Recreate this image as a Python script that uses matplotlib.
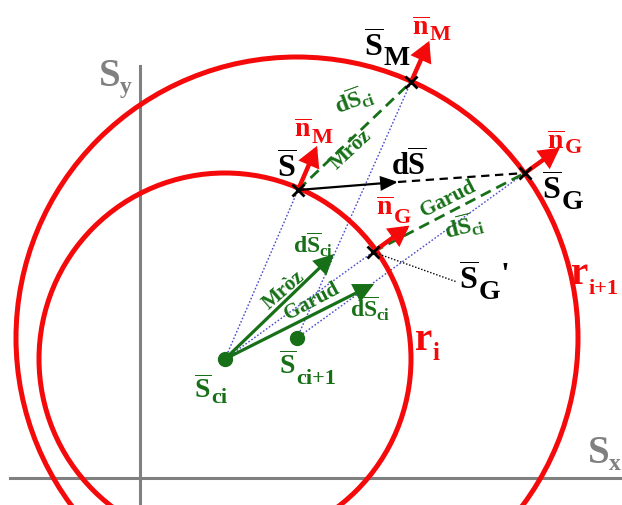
import numpy as np
import matplotlib
matplotlib.use("Agg")
import matplotlib.pyplot as plt
from matplotlib.patches import Circle, FancyArrowPatch

plt.rcParams["mathtext.fontset"] = "custom"
plt.rcParams["mathtext.rm"] = "Liberation Serif:bold"
plt.rcParams["mathtext.it"] = "Liberation Serif:bold"
plt.rcParams["mathtext.bf"] = "Liberation Serif:bold"
plt.rcParams["lines.scale_dashes"] = False

# ---- geometry (stress plane, drawing units) ----
# yield-surface centres S_ci, S_ci+1 and radii r_i, r_i+1
center_x = [225, 297]
center_y = [359, 338]
radius = [186, 281]

# stress points: S, S_M (Mroz image), S_G (Garud image), S_G'
point_x = [298, 411, 525, 373]
point_y = [190, 82, 173, 252]
point_center = [0, 1, 1, 0]          # surface each point lies on
normal_len = [48, 45, 43, 45]        # length of the normal arrows

# tip of the stress increment dS (continues dashed to S_G)
ds_tip = [398, 182]

# translation arrows dS_ci drawn from S_ci: Mroz, Garud
dsci_tip_x = [334, 374]
dsci_tip_y = [254, 284]

# coordinate axes
sx_axis_y, sx_axis_x = 478, [10, 622]
sy_axis_x, sy_axis_y = 140, [66, 505]

RED = "#f40a0a"
GREEN = "#177017"
GRAY = "#808080"
BLUE = "#4a4ad0"
SERIF = dict(family="Liberation Serif", weight="bold")

fig = plt.figure(figsize=(6.22, 5.05), dpi=100)
ax = fig.add_axes([0, 0, 1, 1])
ax.set_xlim(0, 622)
ax.set_ylim(505, 0)
ax.axis("off")

# axes
ax.plot(sx_axis_x, [sx_axis_y] * 2, color=GRAY, lw=2.2, zorder=1)
ax.plot([sy_axis_x] * 2, sy_axis_y, color=GRAY, lw=2.2, zorder=1)

P = list(zip(point_x, point_y))
C = list(zip(center_x, center_y))
S, SM, SG, SGp = P

# thin dotted construction rays from the centres
for ci, pi in [(0, 0), (1, 1), (0, 3), (1, 2)]:
    ax.plot([C[ci][0], P[pi][0]], [C[ci][1], P[pi][1]], color=BLUE, lw=1.0,
            dashes=(1.2, 1.4), zorder=2)

# yield surfaces
for (cx, cy), r in zip(C, radius):
    ax.add_patch(Circle((cx, cy), r, fill=False, ec=RED, lw=3.6, zorder=3))


def arrow(p0, p1, color, lw, hl, hw, z=5):
    ax.add_patch(FancyArrowPatch(p0, p1, arrowstyle=f"-|>,head_length={hl},head_width={hw}",
                                 mutation_scale=1, color=color, lw=lw,
                                 shrinkA=0, shrinkB=0, zorder=z, joinstyle="miter"))


# dashed dS_ci directions (Mroz: S -> S_M, Garud: S_G' -> S_G)
ax.plot([S[0], SM[0]], [S[1], SM[1]], color=GREEN, lw=2.0, dashes=(8, 4.5), zorder=4)
ax.plot([SGp[0], SG[0]], [SGp[1], SG[1]], color=GREEN, lw=2.0, dashes=(8, 4.5), zorder=4)

# stress increment dS and its extension to S_G
arrow(S, ds_tip, "black", 1.6, 10, 4.2)
ax.plot([ds_tip[0], SG[0]], [ds_tip[1], SG[1]], color="black", lw=1.6, dashes=(6, 4), zorder=4)

# leader to the S_G' label
ax.plot([SGp[0], 457], [SGp[1], 282], color="black", lw=1.0, dashes=(1, 1.3), zorder=4)

# centre translation arrows
for tx, ty in zip(dsci_tip_x, dsci_tip_y):
    arrow(C[0], (tx, ty), GREEN, 2.3, 11, 5.5)

# centre markers
ax.plot(center_x, center_y, "o", color=GREEN, ms=10, zorder=6)

# outward normals
for (px, py), ci, L in zip(P, point_center, normal_len):
    d = np.array([px - C[ci][0], py - C[ci][1]], float)
    d /= np.hypot(*d)
    arrow((px, py), (px + L * d[0], py + L * d[1]), RED, 3.2, 10, 5.5, z=7)

# stress points
ax.plot(point_x, point_y, "x", color="black", ms=8, mew=2, zorder=8)


def sublabel(x, y, base, sub, ysub, color, size, subsize, prime=None):
    t = ax.text(x, y, base, color=color, fontsize=size, ha="left", va="baseline", zorder=9)
    s = ax.annotate(sub, xy=(1.0, ysub), xycoords=(t, "data"), color=color,
                    fontsize=subsize, ha="left", va="baseline", zorder=9, **SERIF)
    if prime is not None:
        ax.annotate("'", xy=(1.0, prime), xycoords=(s, "data"), color=color,
                    fontsize=size, ha="left", va="baseline", zorder=9, **SERIF)


BAR_S = r"$\overline{S}$"
BAR_N = r"$\overline{n}$"

sublabel(364, 57, BAR_S, "M", 65, "black", 23, 20)
sublabel(542, 200, BAR_S, "G", 209, "black", 23, 20)
sublabel(459, 290, BAR_S, "G", 299, "black", 23, 20, prime=284)
ax.text(277, 178, BAR_S, color="black", fontsize=23, ha="left", va="baseline", zorder=9)
ax.text(391, 176, r"$d\overline{S}$", color="black", fontsize=22, ha="left", va="baseline", zorder=9)

sublabel(412, 35, BAR_N, "M", 40, RED, 20, 16)
sublabel(294, 137, BAR_N, "M", 143, RED, 20, 16)
sublabel(376, 215, BAR_N, "G", 223, RED, 20, 16)
sublabel(547, 149, BAR_N, "G", 153, RED, 20, 16)

sublabel(414, 350, "$r$", "i", 360, RED, 28, 18)
sublabel(570, 284, "$r$", "i+1", 294, RED, 28, 16)

sublabel(98, 86, "$S$", "y", 93, GRAY, 28, 17)
sublabel(587, 463, "$S$", "x", 470, GRAY, 28, 17)

sublabel(194, 398, BAR_S, "ci", 403, GREEN, 20, 16)
sublabel(279, 374, BAR_S, "ci+1", 384, GREEN, 20, 16)

DSCI = r"$d\overline{S}_{ci}$"
green_txt = [
    (354, 100, DSCI, 20, 17),
    (351, 150, "Mròz", 43, 15),
    (448, 199, "Garud", 27, 15),
    (464, 226, DSCI, 14, 17),
    (284, 290, "Mròz", 41, 15),
    (312, 302, "Garud", 28, 15),
    (313, 245, DSCI, 0, 17),
    (370, 309, DSCI, 0, 17),
]
for x, y, s, rot, fs in green_txt:
    kw = {} if s.startswith("$") else SERIF
    ax.text(x, y, s, color=GREEN, fontsize=fs, rotation=rot, rotation_mode="anchor",
            ha="center", va="center", zorder=9, **kw)

fig.savefig("out.png", dpi=100)
